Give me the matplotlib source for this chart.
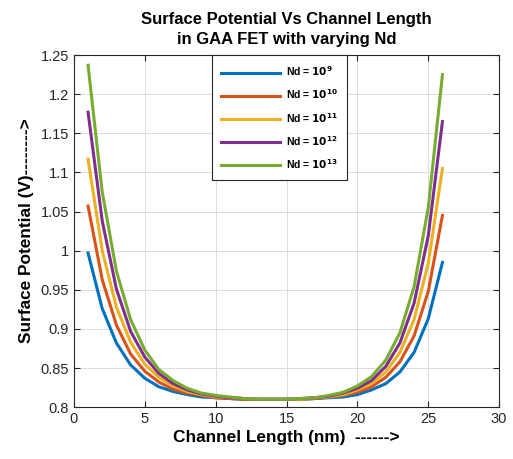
import matplotlib
matplotlib.use('Agg')
import matplotlib.pyplot as plt

plt.rcParams['font.family'] = ['Liberation Sans', 'DejaVu Sans']

# channel position (nm)
x_nm = list(range(1, 27))

# surface potential (V)
phi_1e9 = [0.997, 0.926, 0.882, 0.854, 0.837, 0.826, 0.820, 0.816, 0.813, 0.812, 0.811, 0.810, 0.810,
           0.810, 0.810, 0.810, 0.811, 0.812, 0.813, 0.816, 0.822, 0.830, 0.845, 0.870, 0.913, 0.985]
phi_1e10 = [1.057, 0.963, 0.905, 0.868, 0.846, 0.832, 0.823, 0.818, 0.815, 0.812, 0.811, 0.810, 0.810,
            0.810, 0.810, 0.810, 0.811, 0.813, 0.815, 0.819, 0.826, 0.838, 0.858, 0.891, 0.948, 1.045]
phi_1e11 = [1.117, 1.000, 0.928, 0.883, 0.855, 0.838, 0.827, 0.820, 0.816, 0.813, 0.812, 0.811, 0.810,
            0.810, 0.810, 0.810, 0.812, 0.813, 0.816, 0.822, 0.830, 0.845, 0.870, 0.912, 0.984, 1.105]
phi_1e12 = [1.177, 1.038, 0.951, 0.897, 0.864, 0.843, 0.830, 0.822, 0.817, 0.814, 0.812, 0.811, 0.810,
            0.810, 0.810, 0.811, 0.812, 0.814, 0.818, 0.824, 0.834, 0.852, 0.882, 0.933, 1.019, 1.165]
phi_1e13 = [1.237, 1.075, 0.974, 0.912, 0.873, 0.848, 0.834, 0.824, 0.818, 0.815, 0.813, 0.811, 0.810,
            0.810, 0.810, 0.811, 0.812, 0.815, 0.819, 0.827, 0.839, 0.860, 0.895, 0.954, 1.055, 1.225]

series = [phi_1e9, phi_1e10, phi_1e11, phi_1e12, phi_1e13]
labels = ['Nd = $\\mathbf{10^{9}}$', 'Nd = $\\mathbf{10^{10}}$', 'Nd = $\\mathbf{10^{11}}$',
          'Nd = $\\mathbf{10^{12}}$', 'Nd = $\\mathbf{10^{13}}$']
colors = ['#0072BD', '#D95319', '#EDB120', '#7E2F8E', '#77AC30']

xticks = [0, 5, 10, 15, 20, 25, 30]
yticks = [0.8, 0.85, 0.9, 0.95, 1.0, 1.05, 1.1, 1.15, 1.2, 1.25]

fig = plt.figure(figsize=(5.13, 4.59), dpi=100)
ax = fig.add_axes([0.144, 0.113, 0.829, 0.767])

for y, lab, c in zip(series, labels, colors):
    ax.plot(x_nm, y, color=c, linewidth=2.2, label=lab)

ax.set_xlim(0, 30)
ax.set_ylim(0.8, 1.25)
ax.set_xticks(xticks)
ax.set_yticks(yticks)
ax.set_yticklabels(['%g' % v for v in yticks])
ax.grid(True, color='#dcdcdc', linewidth=0.7)
ax.tick_params(direction='in', top=True, right=True, labelsize=10.5, colors='#262626', length=4)
for s in ax.spines.values():
    s.set_color('#262626')
    s.set_linewidth(0.8)

ax.set_title('Surface Potential Vs Channel Length\nin GAA FET with varying Nd',
             fontsize=12, fontweight='bold', pad=8, linespacing=1.4)
ax.set_xlabel('Channel Length (nm)  ------>', fontsize=12.4, fontweight='bold', labelpad=3)
ax.set_ylabel('Surface Potential (V)-------->', fontsize=12.4, fontweight='bold', labelpad=5)

leg = ax.legend(loc='upper left', bbox_to_anchor=(0.325, 1.0), borderaxespad=0,
                prop={'size': 7.5, 'weight': 'bold'},
                handlelength=5.6, handletextpad=0.6, labelspacing=0.9, borderpad=0.9,
                fancybox=False, edgecolor='#262626', framealpha=1)
leg.get_frame().set_linewidth(0.8)

fig.savefig('out.png', dpi=100)
